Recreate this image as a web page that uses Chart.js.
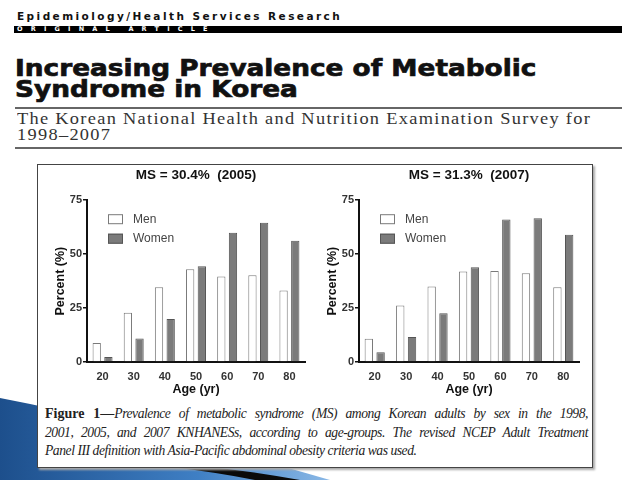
<!DOCTYPE html>
<html>
<head>
<meta charset="utf-8">
<script src="https://cdn.jsdelivr.net/npm/chart.js@4"></script>
<style>
  html, body { margin: 0; padding: 0; background: #fff; }
  #page { position: relative; width: 640px; height: 480px; overflow: hidden; background: #fff; }
  .abs { position: absolute; }
  #dept { left: 17px; top: 10px; font: bold 10.5px "DejaVu Sans", sans-serif; letter-spacing: 2.45px; color: #111; white-space: nowrap; }
  #bar { left: 14px; top: 26px; width: 608px; height: 7px; background: #000; }
  #bar span { position: absolute; left: 3px; top: -1px; font: bold 6.5px "DejaVu Sans", sans-serif; letter-spacing: 8.2px; color: #fff; white-space: nowrap; }
  #title { left: 15px; top: 58px; font: bold 23px "DejaVu Sans", sans-serif; line-height: 21px; color: #111; white-space: nowrap;
           transform: scaleX(1.145); transform-origin: 0 0; -webkit-text-stroke: 0.7px #111; }
  .rule { left: 15px; width: 607px; height: 2px; background: #666; }
  #sub { left: 17px; top: 111px; font: 17px "Liberation Serif", serif; line-height: 16px; color: #333; letter-spacing: 1.2px; white-space: nowrap;
         transform: scaleX(1.08); transform-origin: 0 0; }
  #fig { left: 37px; top: 164px; width: 554px; height: 302px; border: 1px solid #444; background: #fff; box-shadow: 2px 2px 2px #aaa; }
  .plot { position: absolute; }
  #cap { left: 45px; top: 405px; width: 543px; font: italic 13.6px "Liberation Serif", serif; color: #222; line-height: 18.5px; letter-spacing: -0.45px; }
  #cap div { white-space: nowrap; }
  #cap .j { text-align: justify; text-align-last: justify; white-space: normal; }
  #cap b { font-style: normal; font-size: 14px; letter-spacing: 0; }
</style>
</head>
<body>
<div id="page">
  <svg class="abs" style="left:0;top:0" width="640" height="480">
    <defs>
      <linearGradient id="blue" x1="0" y1="0" x2="1" y2="0">
        <stop offset="0" stop-color="#1d4f8c"/>
        <stop offset="0.6" stop-color="#3f7fc4"/>
        <stop offset="1" stop-color="#8ab8e6"/>
      </linearGradient>
    </defs>
    <path d="M0,398 Q140,425 330,480 L0,480 Z" fill="url(#blue)"/>
    <path d="M170,463 Q235,468 300,480 L255,480 Q215,472 170,467 Z" fill="#0a0a0a"/>
  </svg>

  <div id="dept" class="abs">Epidemiology/Health Services Research</div>
  <div id="bar" class="abs"><span>ORIGINAL ARTICLE</span></div>
  <div id="title" class="abs">Increasing Prevalence of Metabolic<br>Syndrome in Korea</div>
  <div class="abs rule" style="top:107px"></div>
  <div id="sub" class="abs">The Korean National Health and Nutrition Examination Survey for<br>1998–2007</div>
  <div class="abs rule" style="top:147px"></div>

  <div id="fig" class="abs"></div>
  <div class="plot" style="left:40px;top:165px;width:275px;height:232px"><canvas id="chart2005"></canvas></div>
  <div class="plot" style="left:312px;top:165px;width:277px;height:232px"><canvas id="chart2007"></canvas></div>

  <div id="cap" class="abs">
    <div class="j"><b>Figure 1—</b>Prevalence of metabolic syndrome (MS) among Korean adults by sex in the 1998,</div>
    <div class="j">2001, 2005, and 2007 KNHANESs, according to age-groups. The revised NCEP Adult Treatment</div>
    <div>Panel III definition with Asia-Pacific abdominal obesity criteria was used.</div>
  </div>
</div>

<script>
const ageGroups = ['20', '30', '40', '50', '60', '70', '80'];
const men2005 = [8.8, 22.8, 34.7, 43.0, 39.6, 40.2, 33.1];
const women2005 = [2.3, 10.9, 19.9, 44.4, 59.9, 64.6, 56.2];
const men2007 = [10.8, 26.2, 35.0, 41.9, 42.2, 41.1, 34.7];
const women2007 = [4.5, 11.6, 22.6, 43.9, 66.1, 66.6, 59.0];
const yTicks = [0, 25, 50, 75];
const title2005 = 'MS = 30.4%  (2005)';
const title2007 = 'MS = 31.3%  (2007)';

Chart.defaults.font.family = '"Liberation Sans", Arial, sans-serif';
Chart.defaults.color = '#333';
Chart.defaults.animation = false;

// legend drawn inside the plot, top-left, stacked
const boxLegend = {
    id: 'boxLegend',
    afterDraw(chart) {
        const ctx = chart.ctx;
        const area = chart.chartArea;
        ctx.save();
        ctx.font = '12px "Liberation Sans", Arial, sans-serif';
        ctx.textBaseline = 'middle';
        chart.data.datasets.forEach((ds, i) => {
            const x = area.left + 21;
            const y = area.top + 14 + i * 19.5;
            ctx.fillStyle = ds.backgroundColor;
            ctx.fillRect(x, y, 15, 10);
            ctx.strokeStyle = ds.borderColor;
            ctx.lineWidth = 1;
            ctx.strokeRect(x + 0.5, y + 0.5, 14, 9);
            ctx.fillStyle = '#444';
            ctx.fillText(ds.label, x + 25, y + 5);
        });
        ctx.restore();
    }
};

function makeChart(id, title, men, women) {
    const ctx = document.getElementById(id).getContext('2d');
    return new Chart(ctx, {
        type: 'bar',
        data: {
            labels: ageGroups,
            datasets: [{
                label: 'Men',
                data: men,
                backgroundColor: '#ffffff',
                borderColor: '#7a7a7a',
                borderWidth: 1,
                categoryPercentage: 0.75,
                barPercentage: 0.71
            }, {
                label: 'Women',
                data: women,
                backgroundColor: '#7b7b7b',
                borderColor: '#555555',
                borderWidth: 1,
                categoryPercentage: 0.75,
                barPercentage: 0.71
            }]
        },
        options: {
            responsive: true,
            maintainAspectRatio: false,
            layout: { padding: { left: 13, right: 10, top: 0, bottom: 0 } },
            plugins: {
                legend: { display: false },
                tooltip: { enabled: false },
                title: {
                    display: true,
                    fullSize: false,
                    text: title,
                    color: '#111',
                    font: { size: 13.5, weight: 'bold' },
                    padding: { top: 2, bottom: 17 }
                }
            },
            scales: {
                x: {
                    afterFit: s => { s.height = 35; },
                    grid: { display: false, drawTicks: false },
                    border: { display: true, color: '#111', width: 2 },
                    ticks: { color: '#333', font: { size: 11, weight: 'bold' }, padding: 8 },
                    title: { display: true, text: 'Age (yr)', color: '#111', font: { size: 12.5, weight: 'bold' }, padding: { top: 0, bottom: 0 } }
                },
                y: {
                    min: 0,
                    max: 75,
                    afterFit: s => { s.width = 34; },
                    afterBuildTicks: s => { s.ticks = yTicks.map(v => ({ value: v })); },
                    grid: { drawOnChartArea: false, drawTicks: true, tickLength: 4, color: '#111', lineWidth: 1.5 },
                    border: { display: true, color: '#111', width: 2 },
                    ticks: { color: '#333', font: { size: 11, weight: 'bold' }, padding: 1 },
                    title: { display: true, text: 'Percent (%)', color: '#111', font: { size: 12.5, weight: 'bold' }, padding: { top: 0, bottom: 0 } }
                }
            }
        },
        plugins: [boxLegend]
    });
}

makeChart('chart2005', title2005, men2005, women2005);
makeChart('chart2007', title2007, men2007, women2007);
</script>
</body>
</html>
